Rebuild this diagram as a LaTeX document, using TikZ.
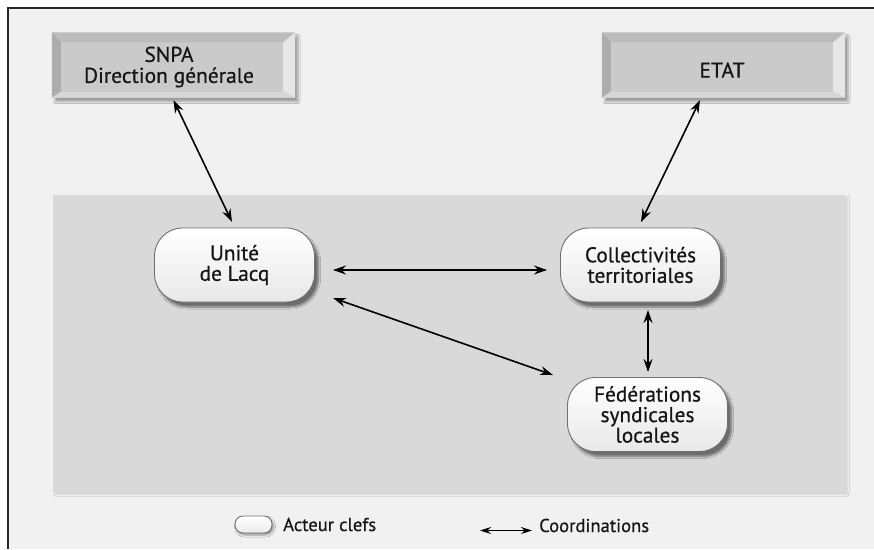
\documentclass[tikz,border=0pt]{standalone}
\usepackage{fontspec}
\setmainfont[FakeBold=0.6]{PT Sans}
\usetikzlibrary{arrows.meta,shadows.blur,calc}
\definecolor{bg}{HTML}{F1F1F1}
\definecolor{panel}{HTML}{D9D9D9}
\definecolor{boxface}{HTML}{CACACA}
\definecolor{beveltop}{HTML}{BCBCBC}
\definecolor{bevelleft}{HTML}{ADADAD}
\definecolor{bevelright}{HTML}{E6E6E6}
\definecolor{bevelbot}{HTML}{D6D6D6}
\definecolor{pillline}{HTML}{707070}
\definecolor{txt}{HTML}{161616}
\tikzset{
  bevelbox/.style={rectangle, fill=boxface, minimum width=243pt, minimum height=65pt,
    inner sep=0pt, blur shadow={shadow xshift=3pt, shadow yshift=-4pt, shadow blur steps=6, shadow opacity=35}},
  boxtext/.style={text=txt, font=\fontsize{21.5}{21}\selectfont, align=center, inner sep=0pt},
  pill/.style={rectangle, rounded corners=28pt, draw=pillline, line width=0.9pt,
    top color=white, bottom color=black!9, minimum width=160pt, minimum height=74pt,
    inner sep=0pt, text=txt, font=\fontsize{21.3}{20.5}\selectfont, align=center,
    blur shadow={shadow xshift=4pt, shadow yshift=-5pt, shadow blur steps=6, shadow opacity=50}},
  minipill/.style={rectangle, rounded corners=8pt, draw=pillline, line width=0.9pt,
    top color=white, bottom color=black!8, minimum width=37pt, minimum height=17pt, inner sep=0pt,
    blur shadow={shadow xshift=1.5pt, shadow yshift=-2pt, shadow blur steps=4, shadow opacity=40}},
  legtext/.style={text=txt, font=\fontsize{18.6}{18}\selectfont, inner sep=0pt, anchor=base west},
  coord/.style={{Stealth[length=13pt,width=9pt]}-{Stealth[length=13pt,width=9pt]}, line width=1.6pt, black},
  legarrow/.style={{Stealth[length=11pt,width=7pt]}-{Stealth[length=11pt,width=7pt]}, line width=0.8pt, black},
}
\newcommand{\bevel}[1]{%
  \fill[beveltop] (#1.north west) -- (#1.north east) -- ($(#1.north east)+(-12,10)$) -- ($(#1.north west)+(9,10)$) -- cycle;
  \fill[bevelleft] (#1.north west) -- ($(#1.north west)+(9,10)$) -- ($(#1.south west)+(9,-6)$) -- (#1.south west) -- cycle;
  \fill[bevelright] (#1.north east) -- (#1.south east) -- ($(#1.south east)+(-12,-6)$) -- ($(#1.north east)+(-12,10)$) -- cycle;
  \fill[bevelbot] (#1.south west) -- ($(#1.south west)+(9,-6)$) -- ($(#1.south east)+(-12,-6)$) -- (#1.south east) -- cycle;
}
\begin{document}
\begin{tikzpicture}[x=1pt,y=-1pt]
\useasboundingbox (0,0) rectangle (874,549);
\fill[white] (0,0) rectangle (874,549);
\fill[bg] (8,8) rectangle (874,549);
\draw[line width=1.4pt, black!85] (8,549) -- (8,8) -- (874,8);
\fill[panel, blur shadow={shadow xshift=2pt, shadow yshift=-2pt, shadow blur steps=4, shadow opacity=15}] (53,195) rectangle (845,492);

% bevelled boxes
\node[bevelbox] (snpa) at (173.5,65) {};
\bevel{snpa}
\node[boxtext] (snpat) at (169,67) {SNPA\\Direction générale};
\node[bevelbox] (etat) at (723.5,65) {};
\bevel{etat}
\node[boxtext] (etatt) at (722,70) {ETAT};

% actors
\node[pill] (unite) at (234.5,265) {Unité\\de Lacq};
\node[pill] (coll) at (640.5,265) {Collectivités\\territoriales};
\node[pill] (fed) at (647.5,414.5) {Fédérations\\syndicales\\locales};

% coordinations
\draw[coord] ([shift={(0,35)}]snpa.center) -- ([shift={(-2.5,-43)}]unite.center);
\draw[coord] ([shift={(-23.5,35)}]etat.center) -- ([shift={(0.5,-43)}]coll.center);
\draw[coord] ([shift={(98.5,5)}]unite.center) -- ([shift={(-93.5,5)}]coll.center);
\draw[coord] ([shift={(98.5,33)}]unite.center) -- ([shift={(-94.5,-39.5)}]fed.center);
\draw[coord] ([shift={(7.5,45)}]coll.center) -- ([shift={(0.5,-42.5)}]fed.center);

% legend
\node[minipill] (lpill) at (253.5,524.5) {};
\node[legtext] (lact) at (283,531) {Acteur clefs};
\coordinate (la) at (480,530.5);
\coordinate (lb) at (532,530.5);
\draw[legarrow] (la) -- (lb);
\node[legtext] (lcoord) at (539,532) {Coordinations};
\end{tikzpicture}
\end{document}
